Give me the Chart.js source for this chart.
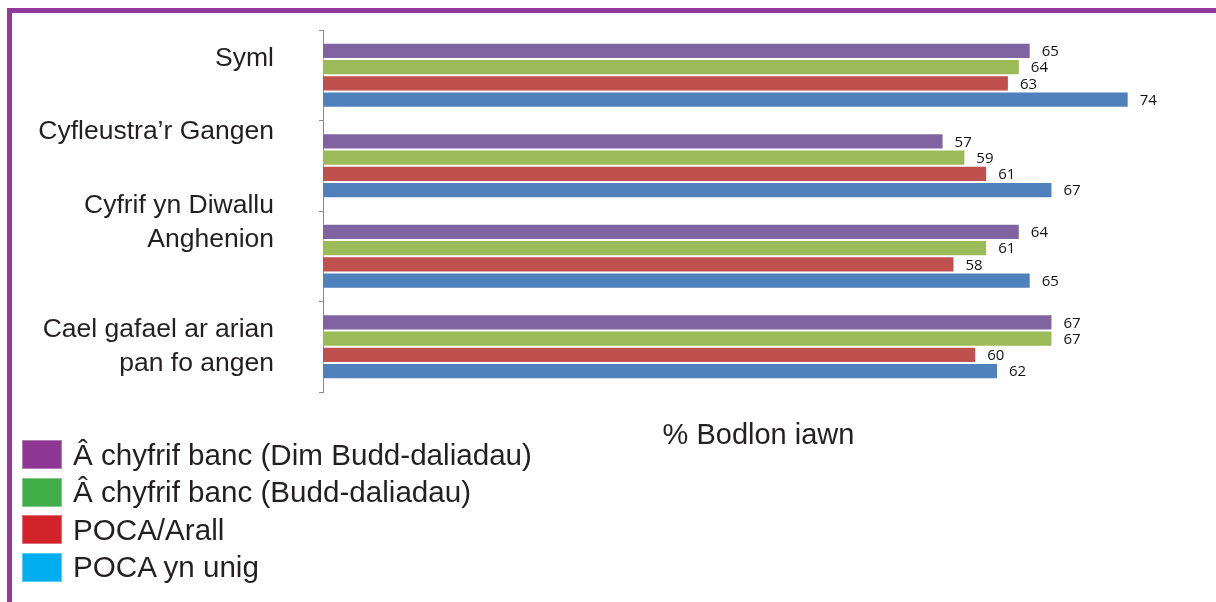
<!DOCTYPE html>
<html>
<head>
<meta charset="utf-8">
<script src="https://cdn.jsdelivr.net/npm/chart.js@4/dist/chart.umd.min.js"></script>
<style>
    html, body { margin: 0; padding: 0; background: #fff; }
    #wrap { position: relative; width: 1216px; height: 602px; overflow: hidden; }
    #frame {
        position: absolute; left: 7px; top: 8px; right: -10px; bottom: -10px;
        border-top: 5px solid #93399a; border-left: 5px solid #93399a;
    }
    #chart { position: absolute; left: 0; top: 0; }
    #legend { position: absolute; left: 22px; top: 440px; font-family: "Liberation Sans", Arial, sans-serif; }
    .item { display: flex; align-items: center; height: 29px; margin-bottom: 8.5px; }
    .swatch { width: 40px; height: 29px; box-sizing: border-box; box-shadow: inset 0 0 0 1px rgba(255,255,255,0.35); }
    .item span { margin-left: 11px; font-size: 29.6px; color: #231f20; white-space: nowrap; }
</style>
</head>
<body>
<div id="wrap">
    <div id="frame"></div>
    <canvas id="chart" width="1216" height="602"></canvas>
    <div id="legend"></div>
</div>
<script>
const categories = [
    ["Syml"],
    ["Cyfleustra’r Gangen"],
    ["Cyfrif yn Diwallu", "Anghenion"],
    ["Cael gafael ar arian", "pan fo angen"]
];
const seriesNames = [
    "Â chyfrif banc (Dim Budd-daliadau)",
    "Â chyfrif banc (Budd-daliadau)",
    "POCA/Arall",
    "POCA yn unig"
];
const noBenefits = [65, 57, 64, 67];
const withBenefits = [64, 59, 61, 67];
const pocaOther = [63, 61, 58, 60];
const pocaOnly = [74, 67, 65, 62];

const barColors = ["#8064a2", "#9bbb59", "#c0504d", "#4f81bd"];
const legendColors = ["#8d3793", "#41ad49", "#d2232a", "#00aeef"];
// blank lines appended under each label to lift it inside its band
const labelPad = [1, 2, 2, 0];

const FONT = "'Liberation Sans', Arial, sans-serif";

// value labels just right of each bar end
const barValues = {
    id: "barValues",
    afterDatasetsDraw(chart) {
        const ctx = chart.ctx;
        ctx.save();
        ctx.font = "15px 'Open Sans', sans-serif";
        ctx.fillStyle = "#111";
        ctx.textAlign = "left";
        ctx.textBaseline = "middle";
        chart.data.datasets.forEach((ds, i) => {
            chart.getDatasetMeta(i).data.forEach((bar, j) => {
                ctx.fillText(ds.data[j], bar.x + 11, bar.y + 1);
            });
        });
        ctx.restore();
    }
};

const values = [noBenefits, withBenefits, pocaOther, pocaOnly];

new Chart(document.getElementById("chart"), {
    type: "bar",
    data: {
        labels: categories,
        datasets: values.map((v, i) => ({
            label: seriesNames[i],
            data: v,
            backgroundColor: barColors[i],
            borderColor: "rgba(255,255,255,0.35)",
            borderWidth: 1,
            categoryPercentage: 0.72,
            barPercentage: 1
        }))
    },
    options: {
        indexAxis: "y",
        responsive: false,
        animation: false,
        layout: { padding: { left: 0, top: 30, right: 22, bottom: 148.6 } },
        plugins: {
            legend: { display: false },
            tooltip: { enabled: false }
        },
        scales: {
            x: {
                min: 0,
                max: 80,
                grid: { display: false, drawTicks: false },
                border: { display: false },
                ticks: { display: false },
                title: {
                    display: true,
                    text: "% Bodlon iawn",
                    color: "#231f20",
                    font: { family: FONT, size: 29 },
                    padding: { top: 26.6, bottom: 0 }
                }
            },
            y: {
                afterFit: s => {
                    s.width = 323;
                    s.paddingTop = 0;
                    s.paddingBottom = 0;
                },
                grid: { display: true, drawOnChartArea: false, tickLength: 4, color: "#898989", offset: true },
                border: { display: true, color: "#898989", width: 1 },
                ticks: {
                    autoSkip: false,
                    padding: 45,
                    color: "#231f20",
                    font: { family: FONT, size: 26.5, lineHeight: 1.28 },
                    callback: function (value, index) {
                        const lines = categories[index].slice();
                        for (let k = 0; k < labelPad[index]; k++) lines.push("");
                        return lines;
                    }
                }
            }
        }
    },
    plugins: [barValues]
});

// legend as a plain list under the chart
const legend = document.getElementById("legend");
seriesNames.forEach((name, i) => {
    const row = document.createElement("div");
    row.className = "item";
    const box = document.createElement("div");
    box.className = "swatch";
    box.style.background = legendColors[i];
    const text = document.createElement("span");
    text.innerText = name;
    row.appendChild(box);
    row.appendChild(text);
    legend.appendChild(row);
});
</script>
</body>
</html>
